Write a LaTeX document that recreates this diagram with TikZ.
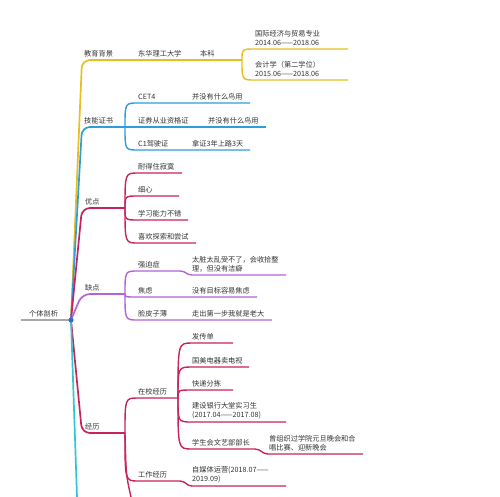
\documentclass[tikz,border=0pt]{standalone}
\usepackage{fontspec}
\setmainfont{Noto Sans CJK SC}
\definecolor{cyel}{HTML}{E8BF1E}
\definecolor{cblu}{HTML}{2C9FD9}
\definecolor{ccrim}{HTML}{C8235F}
\definecolor{cpur}{HTML}{B563D6}
\definecolor{ccya}{HTML}{33C6CC}
\definecolor{cgry}{HTML}{A8A8A8}
\definecolor{cdot}{HTML}{2B6FD0}
\definecolor{ctxt}{HTML}{333333}
\begin{document}
\begin{tikzpicture}[x=1pt,y=-1pt,
  lbl/.style={anchor=south west,inner sep=0pt,align=left,font=\fontsize{7.2}{9}\selectfont,text=ctxt},
  mainbr/.style={line width=1.7pt,rounded corners=8pt},
  subbr/.style={line width=1.4pt},
  stepc/.style={line width=1.4pt}]
\useasboundingbox (0,0) rectangle (500,496);
\fill[white] (0,0) rectangle (500,496);

% root
\coordinate (root) at (71,320);
\coordinate (rootL) at (21,320);
\draw[cgry,line width=1.3pt] (rootL) -- (root);
\node[lbl] (tRoot) at (29,317) {个体剖析};

% ---------- 教育背景 (yellow)
\coordinate (eduS) at (82,60);
\coordinate (eduF) at (242,60);
\draw[cyel,mainbr] (root) -- (eduS) -- (eduF);
\node[lbl] (tEdu) at (84,57) {教育背景};
\node[lbl] (tUni) at (138,57) {东华理工大学};
\node[lbl] (tBk) at (200,57) {本科};
\coordinate (ie1) at (255,49); \coordinate (ie1e) at (348,49);
\coordinate (ie2) at (255,80); \coordinate (ie2e) at (348,80);
\draw[cyel,subbr] (eduF) .. controls (eduF |- ie1) .. (ie1) -- (ie1e);
\draw[cyel,subbr] (eduF) .. controls (eduF |- ie2) .. (ie2) -- (ie2e);
\node[lbl] (tIe1) at (255,46) {国际经济与贸易专业\\2014.06——2018.06};
\node[lbl] (tIe2) at (255,77) {会计学（第二学位）\\2015.06——2018.06};

% ---------- 技能证书 (blue)
\coordinate (skS) at (82,127);
\coordinate (skF) at (125,127);
\draw[cblu,mainbr] (root) -- (skS) -- (skF);
\node[lbl] (tSk) at (84,124) {技能证书};
\coordinate (sk1) at (138,103); \coordinate (sk1e) at (250,103);
\coordinate (sk2e) at (266,127);
\coordinate (sk3) at (138,150); \coordinate (sk3e) at (250,150);
\draw[cblu,subbr] (skF) .. controls (skF |- sk1) .. (sk1) -- (sk1e);
\draw[cblu,subbr] (skF) -- (sk2e);
\draw[cblu,subbr] (skF) .. controls (skF |- sk3) .. (sk3) -- (sk3e);
\node[lbl] (tCet) at (138,100) {CET4};
\node[lbl] (tCetN) at (192,100) {并没有什么鸟用};
\node[lbl] (tZq) at (138,124) {证券从业资格证};
\node[lbl] (tZqN) at (208,124) {并没有什么鸟用};
\node[lbl] (tC1) at (138,147) {C1驾驶证};
\node[lbl] (tC1N) at (192,147) {拿证3年上路3天};

% ---------- 优点 (crimson)
\coordinate (meS) at (82,208);
\coordinate (meF) at (125,208);
\draw[ccrim,mainbr] (root) -- (meS) -- (meF);
\node[lbl] (tMe) at (85,205) {优点};
\coordinate (me1) at (138,173); \coordinate (me1e) at (182,173);
\coordinate (me2) at (138,196); \coordinate (me2e) at (179,196);
\coordinate (me3) at (138,220); \coordinate (me3e) at (188,220);
\coordinate (me4) at (138,243); \coordinate (me4e) at (196,243);
\foreach \c in {me1,me2,me3,me4}
  \draw[ccrim,subbr] (meF) .. controls (meF |- \c) .. (\c) -- (\c e);
\node[lbl] (tMe1) at (138,170) {耐得住寂寞};
\node[lbl] (tMe2) at (138,193) {细心};
\node[lbl] (tMe3) at (138,217) {学习能力不错};
\node[lbl] (tMe4) at (138,240) {喜欢探索和尝试};

% ---------- 缺点 (purple)
\coordinate (faS) at (82,294);
\coordinate (faF) at (125,294);
\draw[cpur,mainbr] (root) -- (faS) -- (faF);
\node[lbl] (tFa) at (85,291) {缺点};
\coordinate (fa1) at (138,271); \coordinate (fa1m) at (180,271);
\coordinate (fa1n) at (192,275); \coordinate (fa1e) at (286,275);
\coordinate (fa2) at (138,297); \coordinate (fa2e) at (257,297);
\coordinate (fa3) at (138,320); \coordinate (fa3e) at (272,320);
\draw[cpur,subbr] (faF) .. controls (faF |- fa1) .. (fa1) -- (fa1m)
  .. controls +(6,0) and +(-6,0) .. (fa1n) -- (fa1e);
\draw[cpur,subbr] (faF) .. controls (faF |- fa2) .. (fa2) -- (fa2e);
\draw[cpur,subbr] (faF) .. controls (faF |- fa3) .. (fa3) -- (fa3e);
\node[lbl] (tFa1) at (138,268) {强迫症};
\node[lbl] (tFa1N) at (192,272) {太脏太乱受不了，会收拾整\\理，但没有洁癖};
\node[lbl] (tFa2) at (138,294) {焦虑};
\node[lbl] (tFa2N) at (192,294) {没有目标容易焦虑};
\node[lbl] (tFa3) at (138,317) {脸皮子薄};
\node[lbl] (tFa3N) at (192,317) {走出第一步我就是老大};

% ---------- 经历 (crimson)
\coordinate (exS) at (82,433);
\coordinate (exF) at (125,433);
\draw[ccrim,mainbr] (root) -- (exS) -- (exF);
\node[lbl] (tEx) at (85,430) {经历};
\coordinate (ex1) at (138,398); \coordinate (zxF) at (178,398);
\coordinate (ex2) at (138,481); \coordinate (ex2m) at (180,481);
\coordinate (ex2n) at (192,486); \coordinate (ex2e) at (286,486);
\coordinate (exOff) at (131,497);
\draw[ccrim,subbr] (exF) .. controls (exF |- ex1) .. (ex1) -- (zxF);
\draw[ccrim,subbr] (exF) .. controls (exF |- ex2) .. (ex2) -- (ex2m)
  .. controls +(6,0) and +(-6,0) .. (ex2n) -- (ex2e);
\draw[ccrim,subbr] (exF) .. controls (126,475) .. (exOff);
\node[lbl] (tEx1) at (138,395) {在校经历};
\node[lbl] (tEx2) at (138,478) {工作经历};
\node[lbl] (tEx2N) at (192,483) {自媒体运营(2018.07——\\2019.09)};

% 在校经历 children
\coordinate (zx1) at (192,343); \coordinate (zx1e) at (233,343);
\coordinate (zx2) at (192,367); \coordinate (zx2e) at (249,367);
\coordinate (zx3) at (192,390); \coordinate (zx3e) at (233,390);
\coordinate (zx4) at (192,422); \coordinate (zx4e) at (286,422);
\coordinate (zx5) at (192,449); \coordinate (zx5m) at (255,449);
\coordinate (zx5n) at (268,454); \coordinate (zx5e) at (363,454);
\foreach \c in {zx1,zx2,zx3,zx4}
  \draw[ccrim,subbr] (zxF) .. controls (zxF |- \c) .. (\c) -- (\c e);
\draw[ccrim,subbr] (zxF) .. controls (zxF |- zx5) .. (zx5) -- (zx5m)
  .. controls +(6,0) and +(-6,0) .. (zx5n) -- (zx5e);
\node[lbl] (tZx1) at (192,340) {发传单};
\node[lbl] (tZx2) at (192,364) {国美电器卖电视};
\node[lbl] (tZx3) at (192,387) {快递分拣};
\node[lbl] (tZx4) at (192,419) {建设银行大堂实习生\\(2017.04——2017.08)};
\node[lbl] (tZx5) at (192,446) {学生会文艺部部长};
\node[lbl] (tZx5N) at (269,451) {曾组织过学院元旦晚会和合\\唱比赛、迎新晚会};

% ---------- cyan branch (continues below)
\coordinate (cyOff) at (77,497);
\draw[ccya,line width=1.7pt] (root) -- (cyOff);

\fill[cdot] (root) circle (2.6);
\end{tikzpicture}
\end{document}
